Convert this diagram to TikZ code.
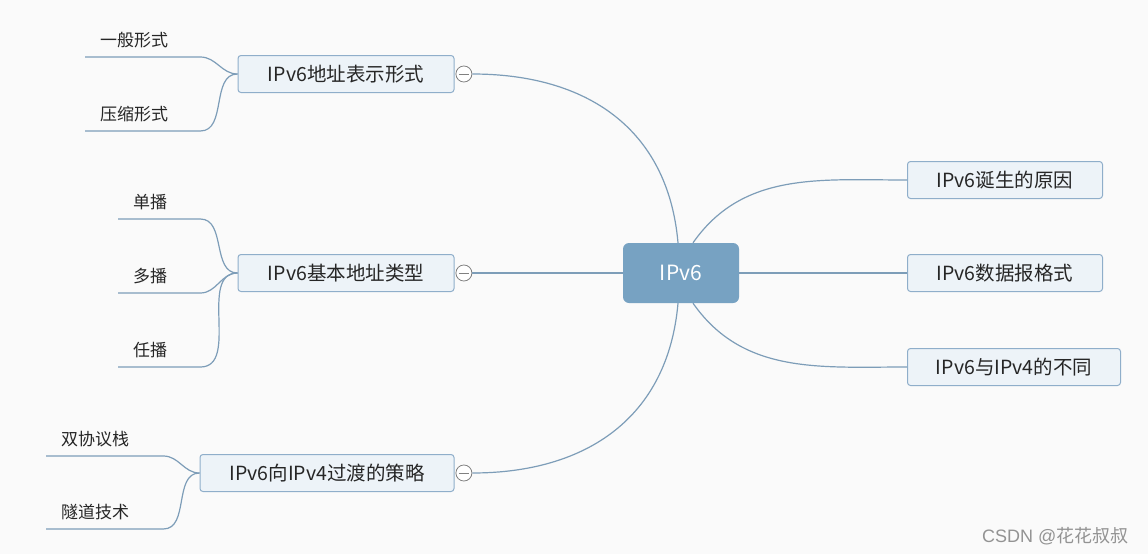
\documentclass[tikz,border=0pt]{standalone}
\usepackage{fontspec}
\setmainfont{Noto Sans CJK SC}
\newfontfamily\markfont{Liberation Sans}
\usetikzlibrary{positioning}
\definecolor{linkblue}{HTML}{7D9DB8}
\definecolor{rootfill}{HTML}{77A2C2}
\definecolor{boxfill}{HTML}{EDF3F8}
\definecolor{boxline}{HTML}{8FAECA}
\begin{document}
\begin{tikzpicture}[x=1pt,y=-1pt,
    link/.style={draw=linkblue, line width=1.2pt},
    root/.style={fill=rootfill, rounded corners=6pt, text=white, minimum width=116, minimum height=60, font=\fontsize{21}{23}\selectfont},
    topic/.style={draw=boxline, fill=boxfill, line width=1pt, rounded corners=3pt, minimum height=37, text=black!85, font=\fontsize{19.5}{21}\selectfont},
    leaf/.style={anchor=south west, inner xsep=15pt, inner ysep=9pt, align=left, text=black!85, font=\fontsize{17}{19}\selectfont},
    fold/.style={circle, draw=gray, fill=white, line width=0.8pt, minimum size=16, inner sep=0pt}]
    \fill[white!98!black] (0,0) rectangle (1148,554);
    % root and topics
    \node[root] (ipv6) at (681,273) {IPv6};
    \node[topic, minimum width=216] (t1) at (346,74) {IPv6地址表示形式};
    \node[topic, minimum width=216] (t2) at (346,273) {IPv6基本地址类型};
    \node[topic, minimum width=254] (t3) at (327,473) {IPv6向IPv4过渡的策略};
    \node[topic, minimum width=195] (r1) at (1005,180) {IPv6诞生的原因};
    \node[topic, minimum width=195] (r2) at (1005,273) {IPv6数据报格式};
    \node[topic, minimum width=213] (r3) at (1014,367) {IPv6与IPv4的不同};
    % fold markers
    \foreach \t in {1,2,3}{
        \node[fold, right=1pt of t\t] (f\t) {};
        \draw[gray, line width=0.8pt] ([xshift=-5]f\t.center) -- ([xshift=5]f\t.center);
    }
    % leaves
    \node[leaf, text width=85] (a1) at (85,57) {一般形式};
    \node[leaf, text width=85] (a2) at (85,131) {压缩形式};
    \node[leaf, text width=52] (b1) at (118,219) {单播};
    \node[leaf, text width=52] (b2) at (118,293) {多播};
    \node[leaf, text width=52] (b3) at (118,367) {任播};
    \node[leaf, text width=87] (c1) at (46,456) {双协议栈};
    \node[leaf, text width=87] (c2) at (46,529) {隧道技术};
    % connectors
    \draw[link] (f1.east) to[out=0, in=95, looseness=1.1] ([xshift=-3]ipv6.north);
    \draw[link] (f2.east) -- (ipv6.west);
    \draw[link] (f3.east) to[out=0, in=-95, looseness=1.1] ([xshift=-3]ipv6.south);
    \draw[link] ([xshift=12]ipv6.north) to[out=55, in=180] (r1.west);
    \draw[link] (ipv6.east) -- (r2.west);
    \draw[link] ([xshift=12]ipv6.south) to[out=-55, in=180] (r3.west);
    \foreach \l in {a1,a2}
        \draw[link] (\l.south west) -- (\l.south east) to[out=0, in=180] (t1.west);
    \foreach \l in {b1,b2,b3}
        \draw[link] (\l.south west) -- (\l.south east) to[out=0, in=180] (t2.west);
    \foreach \l in {c1,c2}
        \draw[link] (\l.south west) -- (\l.south east) to[out=0, in=180] (t3.west);
    % watermark
    \node[anchor=east, text=gray!85, font=\fontsize{18}{20}\selectfont] (mark) at (1132,536) {{\markfont CSDN @}花花叔叔};
\end{tikzpicture}
\end{document}
